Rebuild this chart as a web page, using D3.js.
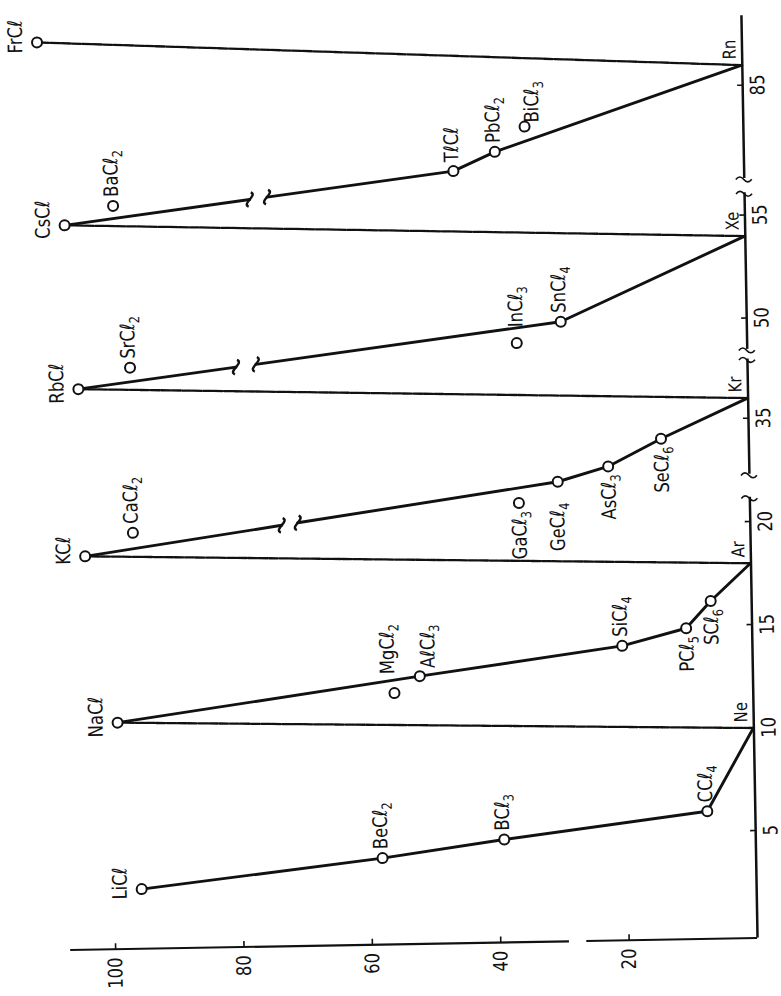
<!DOCTYPE html>
<html>
<head>
<meta charset="utf-8">
<script src="https://cdn.jsdelivr.net/npm/d3@7"></script>
<style>
  body { margin: 0; background: #fff; }
</style>
</head>
<body>
<script>
// compounds along the zig-zag line, in drawing order (atomic number, value)
var names  = ["LiCl", "BeCl2", "BCl3", "CCl4", "Ne", "NaCl", "AlCl3", "SiCl4", "PCl5", "SCl6", "Ar",
              "KCl", "GeCl4", "AsCl3", "SeCl6", "Kr", "RbCl", "SnCl4", "Xe", "CsCl", "TlCl", "PbCl2", "Rn", "FrCl"];
var zPos   = [2.7, 4.0, 4.8, 6.0, 10, 10.8, 12.8, 14.1, 14.9, 16.2, 18,
              18.9, 32.1, 32.8, 34.1, 36, 37.0, 50.0, 54, 55.1, 81.1, 82.0, 86, 87.7];
var values = [95.7, 58.1, 39.1, 7.4, 0, 99.0, 51.8, 20.2, 10.2, 6.3, 0,
              103.6, 29.8, 21.9, 13.6, 0, 104.2, 28.9, 0, 105.9, 45.2, 38.7, 0, 109.7];

// points standing apart from the line
var looseNames  = ["MgCl2", "CaCl2", "GaCl3", "SrCl2", "InCl3", "BaCl2", "BiCl3"];
var looseZ      = [12.0, 20.0, 31.1, 38.0, 49.0, 56.0, 83.2];
var looseValues = [55.8, 96.1, 35.9, 96.1, 35.8, 98.3, 34.0];

var nobleGases = ["Ne", "Ar", "Kr", "Xe", "Rn"];

// stretches of the line that are broken (value where the gap starts / ends)
var lineBreakFrom = ["KCl", "RbCl", "CsCl"];
var lineBreakGap  = [[72.9, 70.4], [79.6, 76.5], [77.0, 74.3]];

// ticks
var zTicks = [5, 10, 15, 20, 35, 50, 55, 85];
var valueTicks = [20, 40, 60, 80, 100];

// ------------------------------------------------------------------ layout
var W = 781, H = 996;
var ink = "#111";
var font = '"DejaVu Sans", sans-serif';
var squeeze = 0.82;   // lettering in the scan is narrow

var svg = d3.select("body").append("svg")
  .attr("width", W)
  .attr("height", H)
  .style("display", "block")
  .style("background", "#fff");

// chart is drawn upright, then turned on its side (and the scan is slightly tilted)
var g = svg.append("g")
  .attr("transform", "rotate(-1 757 936) translate(0 " + H + ") rotate(-90)");

// value axis (vertical in the upright chart)
var y = d3.scaleLinear().domain([0, 100]).range([757, 115]);

// broken atomic-number axis: four pieces with the same unit
var zUnit = 20.6;
var zParts = [
  { lo: -0.2, hi: 21.2, z0: 10, x0: 268 },
  { lo: 32.3, hi: 37.9, z0: 36, x0: 598 },
  { lo: 48.5, hi: 56.1, z0: 54, x0: 760 },
  { lo: 80.5, hi: 88.4, z0: 86, x0: 931 }
];
zParts.forEach(function (p) {
  p.scale = d3.scaleLinear()
    .domain([p.lo, p.hi])
    .range([p.x0 + (p.lo - p.z0) * zUnit, p.x0 + (p.hi - p.z0) * zUnit]);
});
function part(z) {
  return z < 26 ? zParts[0] : z < 44 ? zParts[1] : z < 70 ? zParts[2] : zParts[3];
}
function x(z) { return part(z).scale(z); }

// ------------------------------------------------------------------ axes
// atomic number axis
zParts.forEach(function (p, i) {
  var ax = g.append("g")
    .attr("transform", "translate(0,757)")
    .call(d3.axisBottom(p.scale)
      .tickValues(zTicks.filter(function (t) { return t >= p.lo && t <= p.hi; }))
      .tickFormat(d3.format("d"))
      .tickSize(-5)
      .tickSizeOuter(0)
      .tickPadding(8));
  ax.select(".domain").attr("stroke", ink).attr("stroke-width", 2.5);
  ax.selectAll(".tick line").attr("stroke", ink).attr("stroke-width", 1.6);
  ax.selectAll(".tick text")
    .attr("fill", ink)
    .attr("transform", "scale(" + squeeze + ",1)")
    .style("font-family", font)
    .style("font-size", "20px");

  // break marks
  var ends = [];
  if (i > 0) ends.push(p.scale(p.lo));
  if (i < zParts.length - 1) ends.push(p.scale(p.hi));
  ends.forEach(function (ex) {
    g.append("path")
      .attr("d", "M" + (ex - 1) + ",749 q5,4 0,8 q-5,4 0,8")
      .attr("fill", "none")
      .attr("stroke", ink)
      .attr("stroke-width", 1.6);
  });
});

// value axis
var vAx = g.append("g")
  .attr("transform", "translate(58,0)")
  .call(d3.axisLeft(y).tickValues(valueTicks).tickSize(-6).tickPadding(10));
vAx.select(".domain").remove();
vAx.selectAll(".tick line").attr("stroke", ink).attr("stroke-width", 1.6);
vAx.selectAll(".tick text")
  .attr("fill", ink)
  .attr("transform", "scale(" + squeeze + ",1)")
  .style("font-family", font)
  .style("font-size", "20px");
[[107, 29.3], [26.6, 0]].forEach(function (r) {
  g.append("line")
    .attr("x1", 58).attr("x2", 58)
    .attr("y1", y(r[0])).attr("y2", y(r[1]))
    .attr("stroke", ink)
    .attr("stroke-width", 2.2);
});

// ------------------------------------------------------------------ line
var pts = names.map(function (n, i) {
  return { name: n, z: zPos[i], v: values[i], px: x(zPos[i]), py: y(values[i]) };
});
var loose = looseNames.map(function (n, i) {
  return { name: n, z: looseZ[i], v: looseValues[i], px: x(looseZ[i]), py: y(looseValues[i]) };
});

function along(a, b, v) {
  var t = (v - a.v) / (b.v - a.v);
  return { px: a.px + t * (b.px - a.px), py: a.py + t * (b.py - a.py) };
}

function squiggle(c, a, b) {
  var dx = b.px - a.px, dy = b.py - a.py, len = Math.sqrt(dx * dx + dy * dy);
  var d = [dx / len, dy / len], n = [-d[1], d[0]];
  var p0 = [c.px - 7 * n[0] + 2 * d[0], c.py - 7 * n[1] + 2 * d[1]];
  var c1 = [c.px - 3 * n[0] + 9 * d[0], c.py - 3 * n[1] + 9 * d[1]];
  var c2 = [c.px + 3 * n[0] - 9 * d[0], c.py + 3 * n[1] - 9 * d[1]];
  var p1 = [c.px + 7 * n[0] - 2 * d[0], c.py + 7 * n[1] - 2 * d[1]];
  g.append("path")
    .attr("d", "M" + p0 + "C" + c1 + " " + c2 + " " + p1)
    .attr("fill", "none")
    .attr("stroke", ink)
    .attr("stroke-width", 2.4);
}

var lineLayer = g.append("g");
d3.pairs(pts).forEach(function (s) {
  var a = s[0], b = s[1];
  var flat = nobleGases.indexOf(a.name) >= 0;
  var k = lineBreakFrom.indexOf(a.name);
  var pieces = [[a, b]];
  if (k >= 0) {
    var g0 = along(a, b, lineBreakGap[k][0]);
    var g1 = along(a, b, lineBreakGap[k][1]);
    pieces = [[a, g0], [g1, b]];
    squiggle(g0, a, b);
    squiggle(g1, a, b);
  }
  pieces.forEach(function (pc) {
    lineLayer.append("line")
      .attr("x1", pc[0].px).attr("y1", pc[0].py)
      .attr("x2", pc[1].px).attr("y2", pc[1].py)
      .attr("stroke", ink)
      .attr("stroke-width", flat ? 2.3 : 2.9)
      .attr("stroke-dasharray", flat ? "9,1.5" : null)
      .attr("stroke-linecap", "round");
  });
});

// ------------------------------------------------------------------ points
var compounds = pts.filter(function (p) { return nobleGases.indexOf(p.name) < 0; }).concat(loose);

g.selectAll("circle.pt")
  .data(compounds)
  .enter().append("circle")
  .attr("class", "pt")
  .attr("cx", function (d) { return d.px; })
  .attr("cy", function (d) { return d.py; })
  .attr("r", 5)
  .attr("fill", "#fff")
  .attr("stroke", ink)
  .attr("stroke-width", 2);

// ------------------------------------------------------------------ labels
var labelSide = {
  LiCl: "top", NaCl: "top", KCl: "top", RbCl: "top", CsCl: "top", FrCl: "top",
  PCl5: "left", SCl6: "left", GaCl3: "left", GeCl4: "left", AsCl3: "left", SeCl6: "left"
};
var labelNudge = { MgCl2: [19, 0], AlCl3: [8, 15], BiCl3: [4, 14], InCl3: [16, 6], GeCl4: [-21, 6] };

function formula(sel, name) {
  name.replace(/l/g, "\u2113").match(/[A-Za-z\u2113]+|\d+/g).forEach(function (t) {
    if (/\d/.test(t)) {
      sel.append("tspan").attr("dy", 5).style("font-size", "14px").text(t);
    } else {
      sel.append("tspan").text(t);
    }
  });
}

compounds.forEach(function (d) {
  var side = labelSide[d.name] || "right";
  var tx, ty, anchor;
  if (side === "top") { tx = d.px + 6; ty = d.py - 15; anchor = "middle"; }
  else if (side === "left") { tx = d.px - 8; ty = d.py + 7; anchor = "end"; }
  else { tx = d.px + 9; ty = d.py + 5; anchor = "start"; }
  if (labelNudge[d.name]) {
    tx = d.px + labelNudge[d.name][0];
    ty = d.py + labelNudge[d.name][1];
  }
  var t = g.append("text")
    .attr("transform", "translate(" + tx + "," + ty + ") scale(" + squeeze + ",1)")
    .attr("text-anchor", anchor)
    .attr("fill", ink)
    .style("font-family", font)
    .style("font-size", "20px");
  formula(t, d.name);
});

// noble gas names at the axis
pts.filter(function (p) { return nobleGases.indexOf(p.name) >= 0; }).forEach(function (d) {
  g.append("text")
    .attr("transform", "translate(" + (d.px + 6) + "," + (d.py - 6) + ") scale(" + squeeze + ",1)")
    .attr("fill", ink)
    .style("font-family", font)
    .style("font-size", "18px")
    .text(d.name);
});
</script>
</body>
</html>
